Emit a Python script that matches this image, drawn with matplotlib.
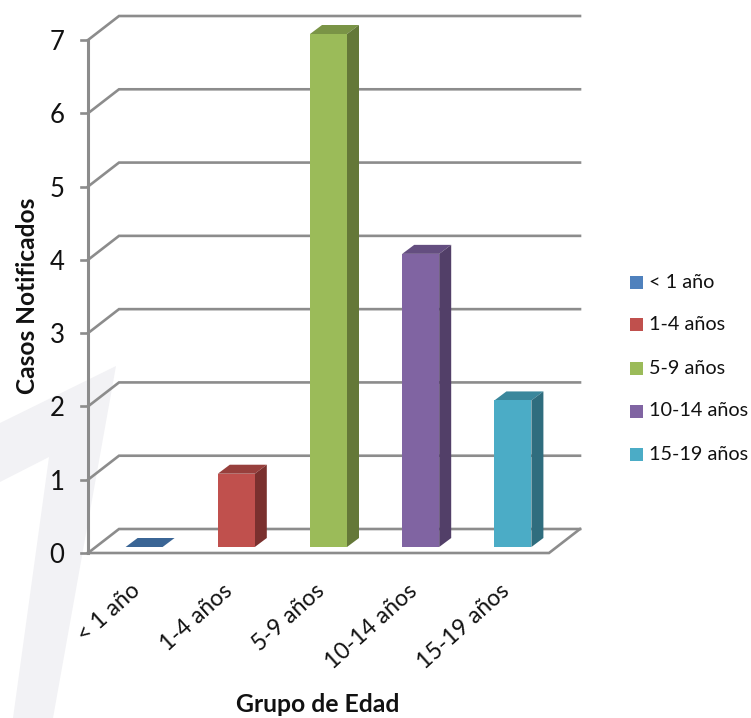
import matplotlib; matplotlib.use("Agg")
import matplotlib.pyplot as plt
from matplotlib.patches import Polygon, Rectangle

categories = ["< 1 año", "1-4 años", "5-9 años", "10-14 años", "15-19 años"]
values = [0, 1, 7, 4, 2]
front = ["#4F81BD", "#C0504D", "#9BBB59", "#8064A2", "#4BACC6"]
top = ["#3A6595", "#973F3C", "#7A9446", "#644E80", "#3A879C"]
side = ["#2F5178", "#7A302E", "#647838", "#523F68", "#2F6D7E"]
yticks = [0, 1, 2, 3, 4, 5, 6, 7]

W, H = 751, 718
GRID = "#8C8C8C"
# oblique offsets of the 3D look, in data units
WALL_DX, WALL_DY = 31/92.2, 24/73.3
BAR_W = 37/92.2
BAR_X0, BAR_Y0 = 10/92.2, 6/73.3
BAR_DX, BAR_DY = 12/92.2, 9/73.3

plt.rcParams["font.family"] = ["Lato", "DejaVu Sans"]
fig = plt.figure(figsize=(W/100, H/100), dpi=100)
ax = fig.add_axes([88/W, 1-553/H, 461/W, 513/H])
ax.set_xlim(-0.5, 4.5); ax.set_ylim(0, 7)
ax.patch.set_visible(False)
for s in ax.spines.values(): s.set_visible(False)

# watermark behind everything
wm = fig.add_axes([0, 0, 1, 1], zorder=-1); wm.set_xlim(0, W); wm.set_ylim(H, 0); wm.axis("off")
wm.add_patch(Polygon([(0, 423), (116, 366), (53, 718), (13, 718), (49, 457), (0, 482)],
                     closed=True, fc="#F2F2F5", ec="none"))

x0 = -0.5
x1 = 4.5
# walls and gridlines
for v in yticks:
    ax.plot([x0, x0+WALL_DX, x1+WALL_DX], [v, v+WALL_DY, v+WALL_DY], color=GRID, lw=1.9, clip_on=False, zorder=1, solid_joinstyle="miter")
    ax.plot([x0-0.08, x0], [v, v], color=GRID, lw=1.9, clip_on=False, zorder=1)
ax.plot([x0, x0], [0, 7], color=GRID, lw=2.2, clip_on=False, zorder=1)
ax.plot([x0, x1, x1+WALL_DX], [0, 0, WALL_DY], color=GRID, lw=1.9, clip_on=False, zorder=1, solid_joinstyle="miter")

# bars: front face through ax.bar, top and side as oblique polygons
for i, v in enumerate(values):
    c = i + BAR_X0
    l = c - BAR_W/2
    r = c + BAR_W/2
    b = BAR_Y0
    t = BAR_Y0 + v
    ax.add_patch(Polygon([(l, t), (r, t), (r+BAR_DX, t+BAR_DY), (l+BAR_DX, t+BAR_DY)], fc=top[i], ec="none", zorder=3, clip_on=False))
    if v > 0:
        ax.add_patch(Polygon([(r, b), (r+BAR_DX, b+BAR_DY), (r+BAR_DX, t+BAR_DY), (r, t)], fc=side[i], ec="none", zorder=3, clip_on=False))
    ax.bar(c, v, width=BAR_W, bottom=BAR_Y0, color=front[i], zorder=4, clip_on=False)

ax.set_xticks(range(5)); ax.set_xticklabels([])
ax.set_yticks(yticks)
ax.tick_params(length=0, labelsize=18.5, pad=17, labelcolor="#111111")
# rotated category labels, anchored at their upper right end
for i, c in enumerate(categories):
    ax.annotate(c, xy=(i, 0), xytext=(-4, -27), textcoords="offset pixels", rotation=42, rotation_mode="anchor",
                ha="right", va="top", fontsize=16.6, color="#111111", annotation_clip=False)
fig.text(318/W, 1-705/H, "Grupo de Edad", ha="center", va="center", fontsize=17.8, fontweight="bold", color="#111111")
fig.text(28/W, 1-296/H, "Casos Notificados", ha="center", va="center", rotation=90, fontsize=17.6, fontweight="bold", color="#111111")

# legend
leg_y = [282, 324, 368, 411, 454]
lg = fig.add_axes([0, 0, 1, 1], zorder=5); lg.set_xlim(0, W); lg.set_ylim(H, 0); lg.axis("off")
for c, col, y in zip(categories, front, leg_y):
    lg.add_patch(Rectangle((630, y-6.5), 13, 13, fc=col, ec="none"))
    lg.text(649, y, c, ha="left", va="center", fontsize=14.3, color="#111111")

fig.savefig("out.png", dpi=100)
